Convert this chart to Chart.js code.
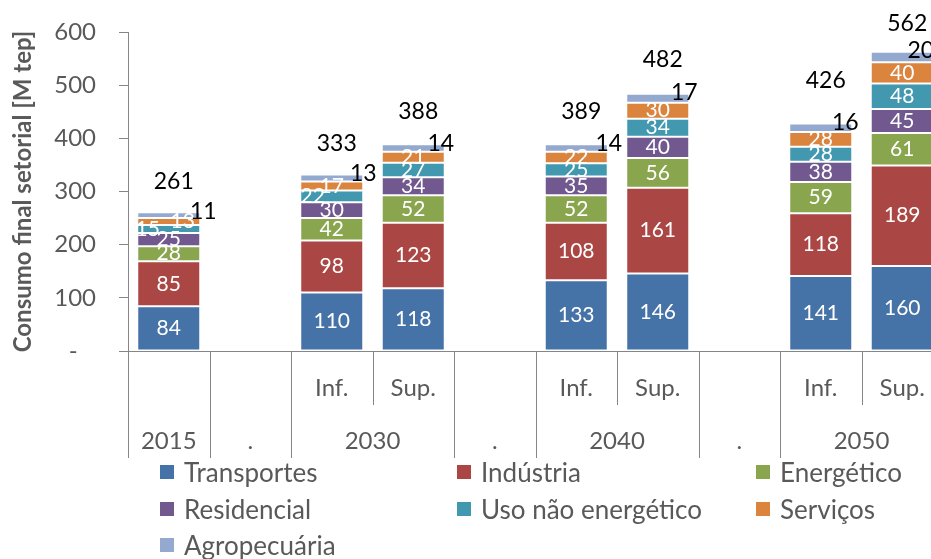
<!DOCTYPE html>
<html><head><meta charset="utf-8">
<script src="https://cdn.jsdelivr.net/npm/chart.js@4.4.1/dist/chart.umd.min.js"></script>
<style>
html,body{margin:0;width:931px;height:559px;overflow:hidden;background:#fff;font-family:Lato,"Open Sans",sans-serif}
#wrap{position:absolute;left:0;top:0;width:950px;height:462px}
#legend{position:absolute;left:0;top:0;width:931px;height:559px;color:#595959;font-size:26px}
.li{position:absolute;height:26px;display:flex;align-items:center;white-space:nowrap;line-height:26px}
.li i{display:inline-block;width:14px;height:14px;margin-right:10px}
</style></head><body>
<div id="wrap"><canvas id="c" width="950" height="462"></canvas></div>
<div id="legend"></div>
<script>
// ===== dados =====
const anos = ['2015', '.', '2030', '.', '2040', '.', '2050'];
const anosSpan = [1, 1, 2, 1, 2, 1, 2];
const cenarios = ['', '', 'Inf.', 'Sup.', '', 'Inf.', 'Sup.', '', 'Inf.', 'Sup.'];
const setores = ['Transportes', 'Indústria', 'Energético', 'Residencial', 'Uso não energético', 'Serviços', 'Agropecuária'];
const transportes  = [84, null, 110, 118, null, 133, 146, null, 141, 160];
const industria    = [85, null,  98, 123, null, 108, 161, null, 118, 189];
const energetico   = [28, null,  42,  52, null,  52,  56, null,  59,  61];
const residencial  = [25, null,  30,  34, null,  35,  40, null,  38,  45];
const usoNaoEnerg  = [15, null,  22,  27, null,  25,  34, null,  28,  48];
const servicos     = [13, null,  17,  21, null,  22,  30, null,  28,  40];
const agropecuaria = [11, null,  13,  14, null,  14,  17, null,  16,  20];
const totais       = [261, null, 333, 388, null, 389, 482, null, 426, 562];

// ===== estilo =====
const cores = ['#4572A7', '#AA4643', '#89A54E', '#71588F', '#4198AF', '#DB843D', '#93A9CF'];
const cinza = '#595959', linha = '#868686', FONT = 'Lato, "Open Sans", sans-serif';
// rótulos empurrados como no original (px)
const desloc = { 4: {0: -21, 2: -19}, 5: {0: 14}, 6: {0: 3, 3: -4, 5: 1, 6: -5, 8: -7, 9: -13} };
const alturaTotal = [31, 0, 31, 33, 0, 33, 34, 0, 43, 28];

const serie = [transportes, industria, energetico, residencial, usoNaoEnerg, servicos, agropecuaria];
const rotuloCat = []; anos.forEach((a, i) => { for (let s = 0; s < anosSpan[i]; s++) rotuloCat.push(a); });
const labels = rotuloCat.map((a, i) => (a + ' ' + cenarios[i]).trim());

// ===== plugins =====
const rotulos = { id: 'rotulos', afterDatasetsDraw(ch) {
  const ctx = ch.ctx; ctx.save(); ctx.textAlign = 'center'; ctx.textBaseline = 'middle';
  ch.data.datasets.forEach((ds, i) => {
    ch.getDatasetMeta(i).data.forEach((b, j) => { const v = ds.data[j]; if (v == null) return;
      const dx = (desloc[i] || {})[j] || 0;
      if (i === 6) { ctx.fillStyle = '#000'; ctx.font = '23px ' + FONT; ctx.fillText(v, b.x + b.width / 2 + dx, b.y - 1); }
      else { ctx.fillStyle = '#fff'; ctx.font = '21px ' + FONT; ctx.fillText(v, b.x + dx, (b.y + b.base) / 2); }
    });
  });
  const topo = ch.getDatasetMeta(6).data;
  ctx.fillStyle = '#000'; ctx.font = '23px ' + FONT;
  totais.forEach((t, j) => { if (t == null) return; ctx.fillText(t, topo[j].x + 5, topo[j].y - alturaTotal[j]); });
  ctx.restore(); } };

const eixoX = { id: 'eixoX', afterDraw(ch) {
  const ctx = ch.ctx, a = ch.chartArea, xs = ch.scales.x, w = (a.right - a.left) / labels.length, y0 = a.bottom;
  const edge = k => Math.round(a.left + k * w) + 0.5;
  ctx.save(); ctx.strokeStyle = linha; ctx.lineWidth = 1;
  const vline = (k, h) => { ctx.beginPath(); ctx.moveTo(edge(k), y0); ctx.lineTo(edge(k), y0 + h); ctx.stroke(); };
  let k = 0; vline(0, 107);
  anosSpan.forEach(s => { for (let q = 1; q < s; q++) vline(k + q, 54); k += s; vline(k, 107); });
  ctx.fillStyle = cinza; ctx.font = '24px ' + FONT; ctx.textAlign = 'center'; ctx.textBaseline = 'middle';
  cenarios.forEach((c, j) => { if (c) ctx.fillText(c, xs.getPixelForValue(j), 388); });
  k = 0; anos.forEach((an, i) => { ctx.fillText(an, a.left + (k + anosSpan[i] / 2) * w, 441); k += anosSpan[i]; });
  ctx.restore(); } };

// ===== gráfico =====
new Chart(document.getElementById('c'), {
  type: 'bar',
  data: { labels, datasets: serie.map((d, i) => ({ label: setores[i], data: d, backgroundColor: cores[i],
    borderColor: 'rgba(255,255,255,0.3)', borderWidth: 1, borderSkipped: false,
    categoryPercentage: 1, barPercentage: 0.773 })) },
  options: {
    responsive: false, animation: false,
    layout: { padding: { top: 32, right: 7, left: 0, bottom: 0 } },
    plugins: { legend: { display: false }, tooltip: { enabled: false } },
    scales: {
      x: { stacked: true, ticks: { display: false },
        grid: { display: true, drawOnChartArea: false, drawTicks: false, color: linha }, border: { color: linha },
        afterFit(s) { s.height = 111; } },
      y: { stacked: true, min: 0, max: 600,
        ticks: { stepSize: 100, color: cinza, padding: 23, font: { family: FONT, size: 24 }, callback: v => v === 0 ? '-   ' : v },
        grid: { drawOnChartArea: false, color: linha, tickLength: 9 }, border: { color: linha },
        title: { display: true, text: 'Consumo final setorial [M tep]', color: cinza, padding: { top: 9, bottom: 0 },
          font: { family: FONT, size: 24, weight: 'bold' } },
        afterFit(s) { s.width = 128; s.paddingTop = 0; s.paddingBottom = 0; } }
    }
  },
  plugins: [rotulos, eixoX]
});

// ===== legenda =====
const colX = [160, 457, 756], rowY = [472, 509, 545], leg = document.getElementById('legend');
setores.forEach((s, i) => { const el = document.createElement('div'); el.className = 'li';
  el.style.left = colX[i % 3] + 'px'; el.style.top = (rowY[Math.floor(i / 3)] - 13) + 'px';
  el.innerHTML = `<i style="background:${cores[i]}"></i>${s}`; leg.appendChild(el); });
</script>
</body></html>
